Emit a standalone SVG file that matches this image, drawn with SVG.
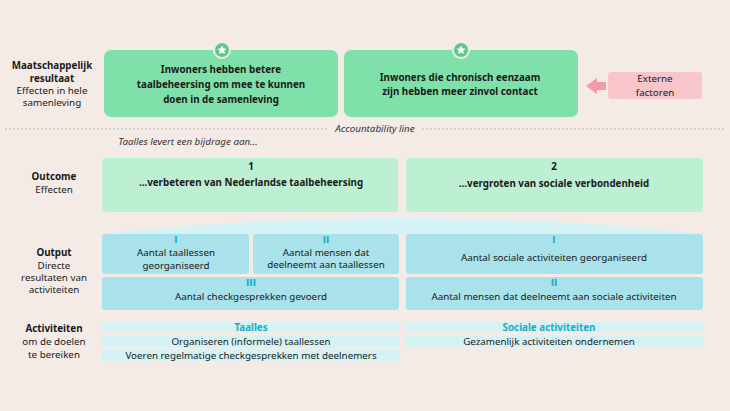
<svg xmlns="http://www.w3.org/2000/svg" width="730" height="411" viewBox="0 0 730 411">
<style>
text{font-family:"Noto Sans","Open Sans",sans-serif;fill:#1a1a1a;text-anchor:middle;font-size:9.8px}
.b{font-weight:bold}
.imp{fill:#7fe0a9}
.out{fill:#bdf0d3}
.op{fill:#a9e2eb}
.ac{fill:#d5f2f5}
.rn{fill:#1aaec6;font-weight:bold;font-family:"DejaVu Sans",sans-serif;font-size:9px}
.it{font-style:italic;fill:#333}
</style>
<rect width="730" height="411" fill="#f4ebe7"/>
<g id="labels">
<text x="52" y="69" class="b">Maatschappelijk</text>
<text x="52" y="82" class="b">resultaat</text>
<text x="52" y="94">Effecten in hele</text>
<text x="52" y="106">samenleving</text>
<text x="54" y="180" class="b">Outcome</text>
<text x="54" y="193">Effecten</text>
<text x="54" y="256" class="b">Output</text>
<text x="54" y="269">Directe</text>
<text x="54" y="281">resultaten van</text>
<text x="54" y="293">activiteiten</text>
<text x="54" y="332" class="b">Activiteiten</text>
<text x="54" y="345">om de doelen</text>
<text x="54" y="358">te bereiken</text>
</g>
<g id="connectors">
<line x1="5" y1="129" x2="328" y2="129" stroke="#aaa" stroke-width="0.8" stroke-dasharray="2,2"/>
<line x1="422" y1="129" x2="725" y2="129" stroke="#aaa" stroke-width="0.8" stroke-dasharray="2,2"/>
<path d="M606 82 H597 V78 L586 86 L597 94 V90 H606 Z" fill="#f49aa8"/>
<path d="M100 234 Q400 202 706 234 Z" fill="#d5f2f5"/>
</g>
<text x="375" y="132" class="it">Accountability line</text>
<text x="188" y="145" class="it">Taalles levert een bijdrage aan...</text>
<g id="impact1">
<rect x="104" y="50" width="234" height="67" rx="7" class="imp"/>
<circle cx="222" cy="50" r="9" fill="#f4ebe7"/><circle cx="222" cy="50" r="7" fill="#5cc98a"/>
<path d="M222 45.5 L223.4 48.4 L226.5 48.7 L224.2 50.8 L224.9 54 L222 52.4 L219.1 54 L219.8 50.8 L217.5 48.7 L220.6 48.4 Z" fill="#fff"/>
<text x="221" y="73" class="b">Inwoners hebben betere</text>
<text x="221" y="88" class="b">taalbeheersing om mee te kunnen</text>
<text x="221" y="103" class="b">doen in de samenleving</text>
</g>
<g id="impact2">
<rect x="344" y="50" width="234" height="67" rx="7" class="imp"/>
<circle cx="461" cy="50" r="9" fill="#f4ebe7"/><circle cx="461" cy="50" r="7" fill="#5cc98a"/>
<path d="M461 45.5 L462.4 48.4 L465.5 48.7 L463.2 50.8 L463.9 54 L461 52.4 L458.1 54 L458.8 50.8 L456.5 48.7 L459.6 48.4 Z" fill="#fff"/>
<text x="460" y="81" class="b">Inwoners die chronisch eenzaam</text>
<text x="460" y="95" class="b">zijn hebben meer zinvol contact</text>
</g>
<g id="externe">
<rect x="608" y="72" width="94" height="27" rx="3" fill="#f8c5cb"/>
<text x="655" y="82">Externe</text>
<text x="655" y="96">factoren</text>
</g>
<g id="outcome1">
<rect x="102" y="158" width="296" height="54" rx="4" class="out"/>
<text x="251" y="170" class="b">1</text>
<text x="251" y="186" class="b">...verbeteren van Nederlandse taalbeheersing</text>
</g>
<g id="outcome2">
<rect x="406" y="158" width="297" height="54" rx="4" class="out"/>
<text x="554" y="170" class="b">2</text>
<text x="554" y="187" class="b">...vergroten van sociale verbondenheid</text>
</g>
<g id="out1"><rect x="102" y="234" width="147" height="40" rx="3" class="op"/>
<text x="176" y="243" class="rn">I</text><text x="176" y="256">Aantal taallessen</text><text x="176" y="269">georganiseerd</text></g>
<g id="out2"><rect x="253" y="234" width="146" height="40" rx="3" class="op"/>
<text x="326" y="243" class="rn">II</text><text x="326" y="256">Aantal mensen dat</text><text x="326" y="268">deelneemt aan taallessen</text></g>
<g id="out3"><rect x="102" y="277" width="297" height="33" rx="3" class="op"/>
<text x="251" y="286" class="rn">III</text><text x="251" y="300">Aantal checkgesprekken gevoerd</text></g>
<g id="out4"><rect x="406" y="234" width="297" height="40" rx="3" class="op"/>
<text x="554" y="243" class="rn">I</text><text x="554" y="261">Aantal sociale activiteiten georganiseerd</text></g>
<g id="out5"><rect x="406" y="277" width="297" height="33" rx="3" class="op"/>
<text x="554" y="286" class="rn">II</text><text x="554" y="300">Aantal mensen dat deelneemt aan sociale activiteiten</text></g>
<g id="act1">
<rect x="102" y="322" width="297" height="10" rx="2" class="ac"/><text x="251" y="330.5" class="rn" style="font-family:'Noto Sans',sans-serif;font-size:9.8px">Taalles</text>
<rect x="102" y="336" width="297" height="11" rx="2" class="ac"/><text x="251" y="344.5">Organiseren (informele) taallessen</text>
<rect x="102" y="350" width="297" height="11" rx="2" class="ac"/><text x="251" y="358.5">Voeren regelmatige checkgesprekken met deelnemers</text>
</g>
<g id="act2">
<rect x="406" y="322" width="297" height="10" rx="2" class="ac"/><text x="549" y="330.5" class="rn" style="font-family:'Noto Sans',sans-serif;font-size:9.8px">Sociale activiteiten</text>
<rect x="406" y="336" width="297" height="11" rx="2" class="ac"/><text x="549" y="344.5">Gezamenlijk activiteiten ondernemen</text>
</g>
</svg>
